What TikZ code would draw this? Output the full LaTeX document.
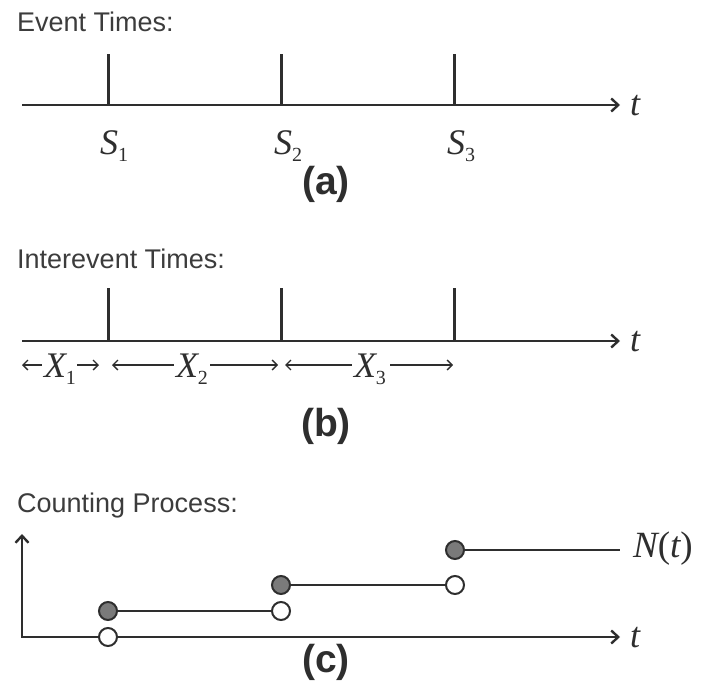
\documentclass[tikz,border=0pt]{standalone}
\usepackage{fontspec}
\setmainfont{Liberation Sans}
\newfontfamily\tms{Liberation Serif}
\usetikzlibrary{arrows.meta}
\definecolor{ink}{HTML}{2E2E2E}
\definecolor{txt}{HTML}{3C3C3C}
\definecolor{dotfill}{HTML}{7A7A7A}
\newcommand\sbs[1]{\raisebox{-7pt}{\upshape\fontsize{20}{20}\selectfont #1}}
\tikzset{
  axisline/.style={line width=2.4pt, draw=ink, line cap=butt},
  axisarrow/.style={axisline, -{Straight Barb[length=7pt,width=13pt]}},
  tickmark/.style={line width=3pt, draw=ink},
  lbl/.style={font=\fontsize{27}{27}\selectfont, text=txt, inner sep=0, anchor=base west},
  panel/.style={font=\bfseries\fontsize{39}{39}\selectfont, text=ink, inner sep=0},
  mth/.style={font=\tms\itshape\fontsize{36}{36}\selectfont, text=ink, inner sep=0},
  dimarrow/.style={line width=1.3pt, draw=ink, -{Straight Barb[length=5pt,width=10pt]}},
  seg/.style={line width=2.2pt, draw=ink},
  fdot/.style={circle, draw=ink, line width=2pt, fill=dotfill, minimum size=18pt, inner sep=0},
  odot/.style={circle, draw=ink, line width=2pt, fill=white, minimum size=18pt, inner sep=0}
}
\begin{document}
\begin{tikzpicture}[x=1pt,y=-1pt]
\useasboundingbox (0,0) rectangle (704,682);
% ---------- (a) ----------
\node[lbl] (ta) at (17,32) {Event Times:};
\coordinate (a0) at (22,105);
\coordinate (a9) at (620,105);
\draw[axisarrow] (a0) -- (a9);
\node[mth, anchor=west] (at) at (630,106) {t};
\foreach \n/\x in {1/108,2/281,3/454}{
  \coordinate (ab\n) at (\x,105);
  \coordinate (at\n) at (\x,54);
  \draw[tickmark] (ab\n) -- (at\n);
}
\node[mth] (s1) at (114,146) {S\sbs{1}};
\node[mth] (s2) at (288,146) {S\sbs{2}};
\node[mth] (s3) at (461,146) {S\sbs{3}};
\node[panel] (pa) at (326,184) {(a)};
% ---------- (b) ----------
\node[lbl] (tb) at (17,268) {Interevent Times:};
\coordinate (b0) at (22,341);
\coordinate (b9) at (620,341);
\draw[axisarrow] (b0) -- (b9);
\node[mth, anchor=west] (bt) at (630,342) {t};
\foreach \n/\x in {1/108,2/281,3/454}{
  \coordinate (bb\n) at (\x,341);
  \coordinate (bt\n) at (\x,288);
  \draw[tickmark] (bb\n) -- (bt\n);
}
\node[mth, anchor=base] (x1) at (60,377) {X\sbs{1}};
\node[mth, anchor=base] (x2) at (192,377) {X\sbs{2}};
\node[mth, anchor=base] (x3) at (370,377) {X\sbs{3}};
\coordinate (d1l) at (22,365);
\coordinate (d1r) at (99,365);
\coordinate (d2l) at (112,365);
\coordinate (d2r) at (278,365);
\coordinate (d3l) at (285,365);
\coordinate (d3r) at (453,365);
\draw[dimarrow] (x1.west |- d1l) ++(-2,0) -- (d1l);
\draw[dimarrow] (x1.east |- d1r) ++(1,0) -- (d1r);
\draw[dimarrow] (x2.west |- d2l) ++(-2,0) -- (d2l);
\draw[dimarrow] (x2.east |- d2r) ++(2,0) -- (d2r);
\draw[dimarrow] (x3.west |- d3l) ++(-2,0) -- (d3l);
\draw[dimarrow] (x3.east |- d3r) ++(4,0) -- (d3r);
\node[panel] (pb) at (326,426) {(b)};
% ---------- (c) ----------
\node[lbl] (tc) at (17,512) {Counting Process:};
\coordinate (ytop) at (22,534);
\coordinate (org) at (22,637);
\coordinate (xend) at (620,637);
\draw[axisline, {Straight Barb[length=7pt,width=13pt]}-{Straight Barb[length=7pt,width=13pt]}] (ytop) -- (org) -- (xend);
\node[mth, anchor=west] (ct) at (630,638) {t};
\node[fdot] (c1f) at (108,611) {};
\node[odot] (c1o) at (281,611) {};
\node[fdot] (c2f) at (281,585) {};
\node[odot] (c2o) at (455,585) {};
\node[fdot] (c3f) at (455,550) {};
\coordinate (nend) at (620,550);
\draw[seg] (c1f) -- (c1o);
\draw[seg] (c2f) -- (c2o);
\draw[seg] (c3f) -- (nend);
\node[odot] (c0) at (108,637) {};
\node[mth, anchor=west, font=\tms\fontsize{37}{37}\selectfont] (nt) at (633,549) {\itshape N\upshape(\itshape t\upshape)};
\node[panel] (pc) at (326,662) {(c)};
\end{tikzpicture}
\end{document}
